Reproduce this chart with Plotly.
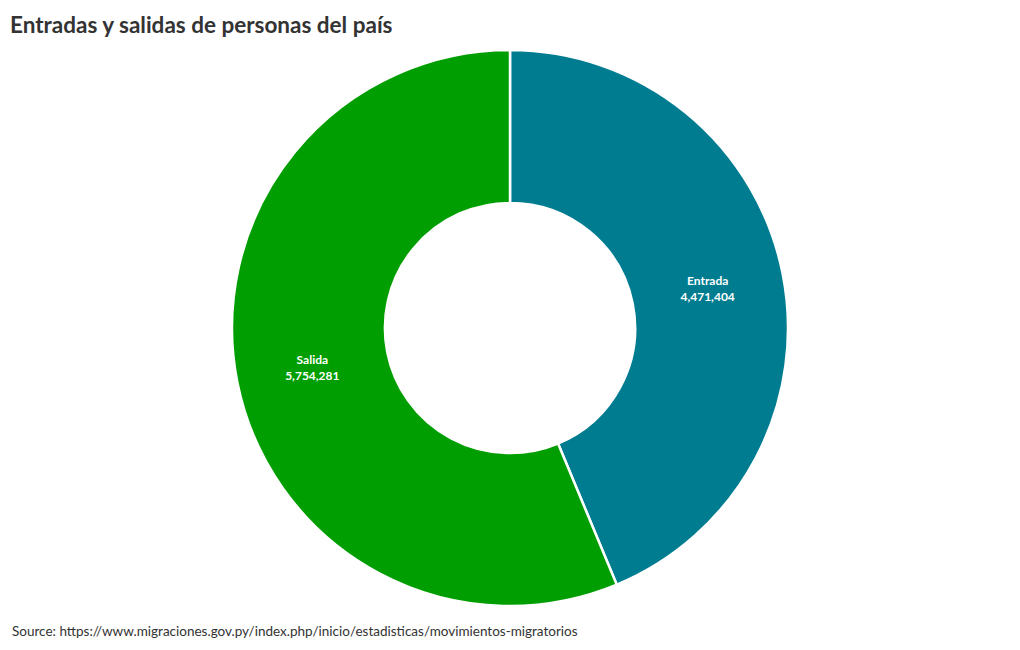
import plotly.graph_objects as go

labels = ["Entrada", "Salida"]
values = [4471404, 5754281]
colors = ["#007C91", "#009E00"]

fig = go.Figure(go.Pie(
    labels=labels,
    values=values,
    hole=0.45,
    sort=False,
    direction="clockwise",
    rotation=0,
    marker=dict(colors=colors, line=dict(color="white", width=2.5)),
    textinfo="label+value",
    texttemplate="%{label}<br>%{value:,}",
    textposition="inside",
    insidetextorientation="horizontal",
    textfont=dict(color="white", size=12, family="Source Sans Pro, Lato, sans-serif", weight="bold"),
    showlegend=False,
    hoverinfo="label+value+percent",
))

fig.update_layout(
    width=1020, height=650,
    margin=dict(l=10, r=10, t=50, b=44),
    paper_bgcolor="white",
    plot_bgcolor="white",
    font=dict(family="Source Sans Pro, Lato, sans-serif", color="#333333"),
    title=dict(text="<b>Entradas y salidas de personas del país</b>", x=0.0098, xanchor="left",
               y=0.962, yanchor="middle", font=dict(size=22.5, color="#333333")),
    annotations=[dict(text="Source: https://www.migraciones.gov.py/index.php/inicio/estadisticas/movimientos-migratorios",
                      x=0, xref="paper", xanchor="left", y=-0.045, yref="paper", yanchor="middle",
                      showarrow=False, font=dict(size=13.5, color="#333333"))],
)

fig.write_html("out.html")
